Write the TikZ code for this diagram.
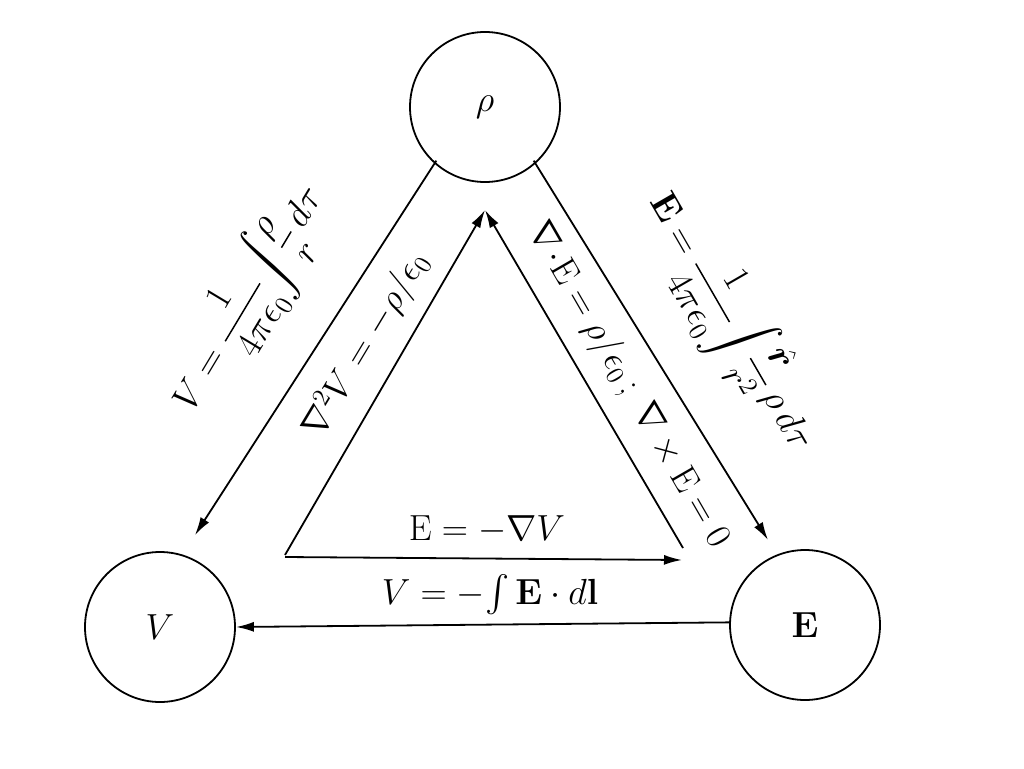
\documentclass[tikz,border=0pt]{standalone}
\usepackage{amsmath,amssymb,bm,graphicx}
\usetikzlibrary{arrows.meta}
\newcommand{\bigfm}[1]{\scalebox{1.75}{\huge$#1$}}
\newcommand{\midfm}[1]{\scalebox{1.8}{\huge$\displaystyle #1$}}
\begin{document}
\begin{tikzpicture}[x=1pt,y=-1pt,
  ball/.style={draw,circle,minimum size=150pt,inner sep=0pt,line width=1.8pt},
  arr/.style={-{Latex[length=18pt,width=10pt]},line width=1.8pt},
  lab/.style={inner sep=0pt}]
\useasboundingbox (0,0) rectangle (1024,768);
\node[ball] (rho) at (485,107) {\bigfm{\rho}};
\node[ball] (V) at (160,627) {\bigfm{V}};
\node[ball] (E) at (805,625) {\bigfm{\mathbf{E}}};
\coordinate (apex) at (485,210);
\coordinate (bl) at (285,555);
\coordinate (br) at (683,548);
\coordinate (bl2) at (285,557);
\draw[arr] (rho.225) ++(5,0) -- (195,535);
\draw[arr] (rho.-45) ++(-5,0) -- (768,540);
\draw[arr] (E.178) -- (V.0);
\draw[arr] (bl) -- (apex);
\draw[arr] (br) -- (apex);
\draw[arr] (bl2) -- (682,560);
\node[lab,rotate=59] (l1) at (250,300) {\midfm{V=\frac{1}{4\pi\epsilon_0}\!\int\!\frac{\rho}{r}\,d\tau}};
\node[lab,rotate=59] (l2) at (366,345) {\bigfm{\nabla^2V=-\rho/\epsilon_0}};
\node[lab,rotate=-60] (l3) at (628,385) {\bigfm{\nabla\!\cdot\!\mathrm{E}=\rho/\epsilon_0\,;\ \nabla\times\mathrm{E}=0}};
\node[lab,rotate=-60] (l4) at (730,322) {\midfm{\mathbf{E}=\frac{1}{4\pi\epsilon_0}\!\int\!\frac{\hat{\bm r}}{r^2}\,\rho\,d\tau}};
\node[lab] (l5) at (487,530) {\bigfm{\mathrm{E}=-\nabla V}};
\node[lab] (l6) at (490,595) {\bigfm{V=-\!\int\mathbf{E}\cdot d\mathbf{l}}};
\end{tikzpicture}
\end{document}
